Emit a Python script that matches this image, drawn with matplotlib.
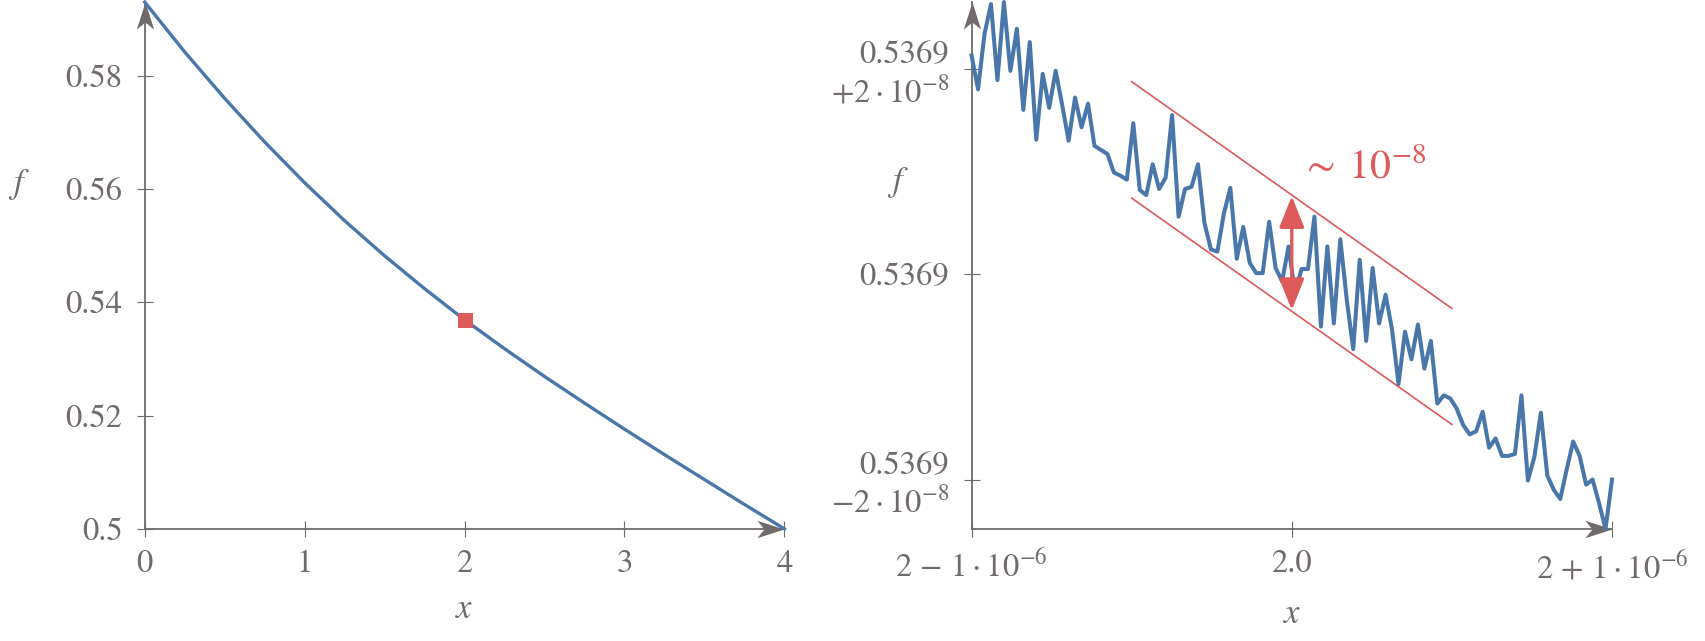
import numpy as np
import matplotlib
matplotlib.use('Agg')
import matplotlib.pyplot as plt
from matplotlib.path import Path

plt.rcParams['font.family'] = 'STIXGeneral'
plt.rcParams['mathtext.fontset'] = 'stix'

gray = '#716a6a'
blue = '#4a77a9'
red = '#dc5a5a'

# left panel: f sampled on [0, 4]
x_full = [0, 0.25, 0.5, 0.75, 1.0, 1.25, 1.5, 1.75, 2.0,
          2.25, 2.5, 2.75, 3.0, 3.25, 3.5, 3.75, 4.0]
f_full = [0.5930, 0.5842, 0.5760, 0.5683, 0.5611, 0.5544, 0.5482, 0.5424, 0.5369,
          0.5318, 0.5269, 0.5222, 0.5176, 0.5131, 0.5087, 0.5043, 0.5000]
x_mark = 2.0
f_mark = 0.5369
x_ticks_left = [0, 1, 2, 3, 4]
y_ticks_left = [0.5, 0.52, 0.54, 0.56, 0.58]
y_labels_left = ['0.5', '0.52', '0.54', '0.56', '0.58']

# right panel: 100 evaluations around x = 2 (x offset in 1e-6, f offset in 1e-8)
x_center = 2.0
f_center = 0.5369
dx_zoom = np.linspace(-1, 1, 100)
df_zoom = [2.13, 1.80, 2.34, 2.63, 1.89, 2.65, 1.98, 2.39, 1.60, 2.26,
           1.31, 1.95, 1.62, 1.98, 1.65, 1.30, 1.72, 1.43, 1.66, 1.25,
           1.21, 1.17, 0.99, 0.96, 0.92, 1.47, 0.82, 0.77, 1.07, 0.83,
           0.94, 1.55, 0.56, 0.83, 0.85, 1.07, 0.50, 0.24, 0.22, 0.59,
           0.84, 0.15, 0.46, 0.11, 0.01, 0.01, 0.51, 0.06, -0.07, 0.27,
           -0.19, 0.05, 0.05, 0.56, -0.51, 0.27, -0.48, 0.34, -0.25, -0.73,
           0.14, -0.65, 0.06, -0.48, -0.20, -0.54, -1.07, -0.56, -0.83, -0.49,
           -0.92, -0.65, -1.26, -1.18, -1.21, -1.31, -1.47, -1.56, -1.53, -1.34,
           -1.69, -1.60, -1.77, -1.77, -1.75, -1.18, -2.01, -1.78, -1.35, -1.96,
           -2.10, -2.19, -1.90, -1.63, -1.77, -2.05, -2.00, -2.23, -2.48, -2.00]
x_ticks_right = [-1, 0, 1]
x_labels_right = [r'$2\,-\,1\cdot10^{-6}$', '2.0', r'$2\,+\,1\cdot10^{-6}$']
y_ticks_right = [-2, 0, 2]
y_labels_right = ['0.5369\n' + r'$-2\cdot10^{-8}$', '0.5369', '0.5369\n' + r'$+2\cdot10^{-8}$']

# noise band and its width marker
band_dx = [-0.5, 0.5]
band_upper = [1.875, -0.334]
band_lower = [0.741, -1.464]
arrow_top = 0.76
arrow_bottom = -0.35
band_text = r'$\sim\;10^{-8}$'

codes = [Path.MOVETO, Path.LINETO, Path.LINETO, Path.LINETO, Path.CLOSEPOLY]
head_up = Path([(0, 0), (-0.32, -1), (0, -0.74), (0.32, -1), (0, 0)], codes)
head_right = Path([(0, 0), (-1, 0.32), (-0.74, 0), (-1, -0.32), (0, 0)], codes)


def arrow_axes(ax):
    for s in ['top', 'right']:
        ax.spines[s].set_visible(False)
    for s in ['left', 'bottom']:
        ax.spines[s].set_color(gray)
        ax.spines[s].set_linewidth(1.3)
    ax.tick_params(direction='inout', length=12, width=0.8, color=gray,
                   labelcolor=gray, labelsize=23.5)
    ax.tick_params(axis='y', pad=10)
    ax.tick_params(axis='x', pad=9)
    ax.plot([0], [1], marker=head_up, ms=39, color=gray, mew=0,
            transform=ax.transAxes, clip_on=False, zorder=2.5)
    ax.plot([1], [0], marker=head_right, ms=39, color=gray, mew=0,
            transform=ax.transAxes, clip_on=False, zorder=2.5)


fig = plt.figure(figsize=(17.06, 6.41), dpi=100)

ax1 = fig.add_axes([0.0848, 0.175, 0.375, 0.8218])
ax1.plot(x_full, f_full, color=blue, lw=2.4, clip_on=False, zorder=3)
ax1.plot([x_mark], [f_mark], marker='s', ms=10.8, color=red, mew=0, zorder=4)
ax1.set_xlim(min(x_full), max(x_full))
ax1.set_ylim(min(f_full), max(f_full))
ax1.set_xticks(x_ticks_left)
ax1.set_yticks(y_ticks_left)
ax1.set_yticklabels(y_labels_left)
arrow_axes(ax1)
ax1.set_xlabel('$x$', fontsize=25, color=gray, va='center')
ax1.xaxis.set_label_coords(0.5, -0.155)
ax1.set_ylabel('$f$', fontsize=25, color=gray, rotation=0, ha='center', va='center')
ax1.yaxis.set_label_coords(-0.196, 0.653)

ax2 = fig.add_axes([0.5695, 0.175, 0.3754, 0.8218])
xz = x_center + dx_zoom * 1e-6
fz = f_center + np.array(df_zoom) * 1e-8
ax2.plot(xz, fz, color=blue, lw=2.9, clip_on=False, zorder=3)
bx = x_center + np.array(band_dx) * 1e-6
ax2.plot(bx, f_center + np.array(band_upper) * 1e-8, color=red, lw=1.2)
ax2.plot(bx, f_center + np.array(band_lower) * 1e-8, color=red, lw=1.2)
ax2.annotate('', xy=(x_center, f_center + arrow_bottom * 1e-8),
             xytext=(x_center, f_center + arrow_top * 1e-8),
             arrowprops=dict(arrowstyle='<|-|>,head_length=0.4,head_width=0.16',
                             color=red, lw=2.4, mutation_scale=48,
                             shrinkA=0, shrinkB=0), zorder=4)
ax2.text(x_center + 0.025e-6, f_center + 0.93e-8, band_text, color=red,
         fontsize=30, ha='left', va='baseline')
ax2.set_xlim(xz.min(), xz.max())
ax2.set_ylim(fz.min(), fz.max())
ax2.set_xticks([x_center + t * 1e-6 for t in x_ticks_right])
ax2.set_xticklabels(x_labels_right)
ax2.set_yticks([f_center + t * 1e-8 for t in y_ticks_right])
ax2.set_yticklabels(y_labels_right)
arrow_axes(ax2)
ax2.set_xlabel('$x$', fontsize=25, color=gray, va='center')
ax2.xaxis.set_label_coords(0.5, -0.164)
ax2.set_ylabel('$f$', fontsize=25, color=gray, rotation=0, ha='center', va='center')
ax2.yaxis.set_label_coords(-0.115, 0.658)

fig.savefig('out.png', dpi=100)
